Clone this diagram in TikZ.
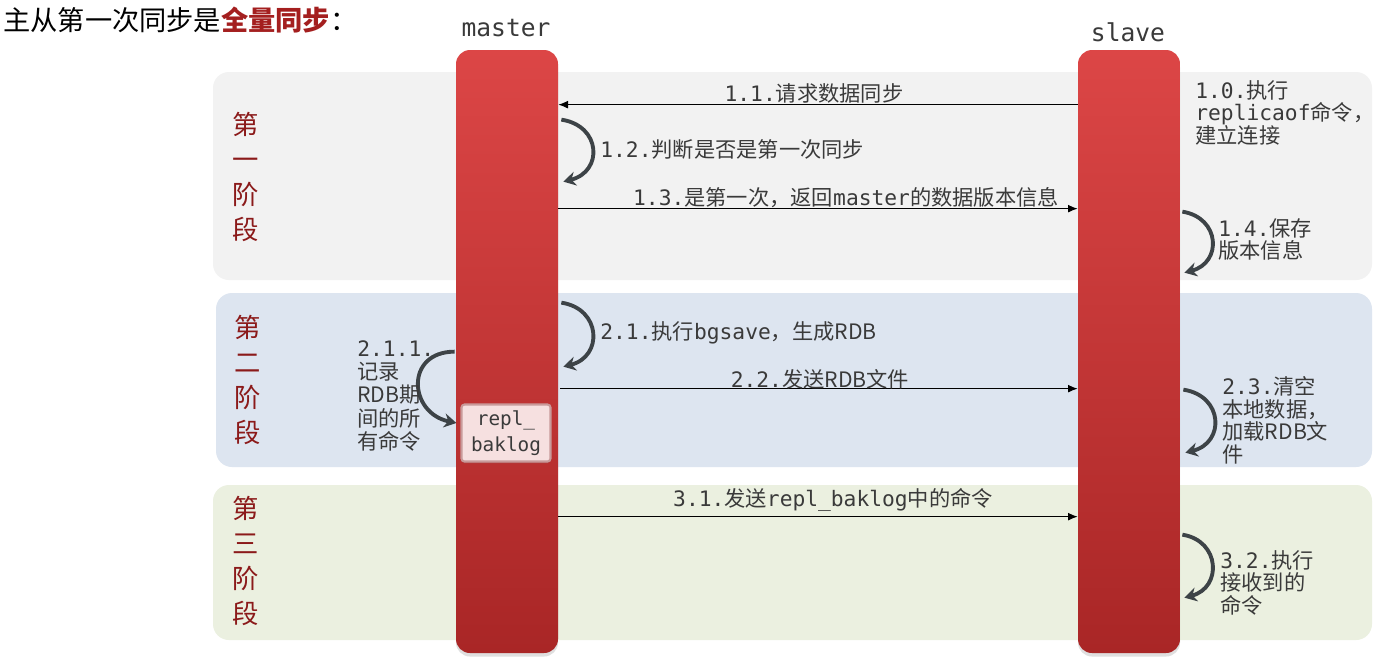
\documentclass[tikz,border=0pt]{standalone}
\usepackage{fontspec}
\setmainfont{Noto Sans CJK SC}
\newfontfamily\monofont{DejaVu Sans Mono}
\newcommand\mm[1]{{\monofont #1}}
\usetikzlibrary{arrows.meta,shadows,calc}
\newdimen\px \px=0.02cm
\definecolor{bgone}{HTML}{F2F2F2}
\definecolor{bgtwo}{HTML}{DDE5F0}
\definecolor{bgthree}{HTML}{EBF0E0}
\definecolor{bartop}{HTML}{DC4646}
\definecolor{barbot}{HTML}{A92626}
\definecolor{stagered}{HTML}{8B1A1A}
\definecolor{titlered}{HTML}{A41F1F}
\definecolor{txt}{HTML}{3A3A3A}
\definecolor{loopc}{HTML}{3D4347}
\definecolor{replfill}{HTML}{F6E0E0}
\definecolor{repldraw}{HTML}{C99A9A}
\begin{document}
\begin{tikzpicture}[x=0.02cm,y=-0.02cm,
  stagebg/.style={rounded corners=16\px, draw=none},
  bar/.style={rounded corners=14\px, minimum width=102\px, minimum height=603\px,
    top color=bartop, bottom color=barbot, draw=none, inner sep=0,
    drop shadow={opacity=0.25, shadow xshift=0pt, shadow yshift=-2pt}},
  msg/.style={-{Latex[length=5.5pt,width=4.5pt]}, line width=0.6pt, black},
  loopar/.style={-{Stealth[length=7pt,width=8pt]}, line width=2.2pt, draw=loopc},
  lbl/.style={font=\fontsize{12.1}{12.9}\selectfont, text=txt, inner sep=0},
  mlbl/.style={lbl, align=left, anchor=north west},
  stagelbl/.style={font=\fontsize{15}{19.8}\selectfont, text=stagered, align=center, inner sep=0},
  head/.style={font=\monofont\fontsize{14}{16}\selectfont, text=txt, inner sep=0},
  replbox/.style={fill=replfill, draw=repldraw, line width=1.2pt, rounded corners=3\px,
    minimum width=89\px, minimum height=57\px, inner sep=0, align=center,
    font=\monofont\fontsize{11}{14.7}\selectfont, text=txt,
    drop shadow={opacity=0.2, shadow xshift=0pt, shadow yshift=-1pt}}
]
\useasboundingbox (0,0) rectangle (1375,667);
\fill[white] (0,0) rectangle (1375,667);

% stage backgrounds
\fill[stagebg, bgone] (213,72) rectangle (1372,280);
\fill[stagebg, bgtwo] (216,293) rectangle (1372,467);
\fill[stagebg, bgthree] (213,485) rectangle (1372,640);

% title
\node[anchor=west, inner sep=0, font=\fontsize{15.5}{17}\selectfont] (title) at (3,20)
  {主从第一次同步是{\bfseries\color{titlered}全量同步}：};

% headers
\node[head] (mlabel) at (506,28) {master};
\node[head] (slabel) at (1128,32) {slave};

% stage labels
\node[stagelbl] (s1) at (246,177) {第\\一\\阶\\段};
\node[stagelbl] (s2) at (248,380) {第\\二\\阶\\段};
\node[stagelbl] (s3) at (246,561) {第\\三\\阶\\段};

% bars
\node[bar] (master) at (507,351.5) {};
\node[bar] (slave) at (1129,351.5) {};

% repl_baklog
\node[replbox] (repl) at (506,433) {repl\_\\baklog};

% message arrows
\draw[msg] ($(slave.north west)+(0,55)$) -- ($(master.north east)+(0,55)$);
\draw[msg] ($(master.north east)+(0,159)$) -- ($(slave.north west)+(0,159)$);
\draw[msg] ($(master.north east)+(2,339)$) -- ($(slave.north west)+(0,339)$);
\draw[msg] ($(master.north east)+(0,467)$) -- ($(slave.north west)+(0,467)$);

% loop arrows
\coordinate (a12) at ($(master.north east)+(3,70)$);
\coordinate (b12) at ($(master.north east)+(5,132)$);
\draw[loopar] (a12) .. controls +(40,6) and +(40,-10) .. (b12);
\coordinate (a21) at ($(master.north east)+(3,253)$);
\coordinate (b21) at ($(master.north east)+(5,317)$);
\draw[loopar] (a21) .. controls +(40,6) and +(40,-10) .. (b21);
\coordinate (a211) at ($(master.north west)+(-1,302)$);
\coordinate (b211) at (repl.west);
\draw[loopar] (a211) .. controls +(-50,0) and +(-48,-10) .. ($(b211)+(-4,-10)$);
\coordinate (a14) at ($(slave.north east)+(2,162)$);
\coordinate (b14) at ($(slave.north east)+(4,223)$);
\draw[loopar] (a14) .. controls +(38,6) and +(38,-10) .. (b14);
\coordinate (a23) at ($(slave.north east)+(3,340)$);
\coordinate (b23) at ($(slave.north east)+(5,403)$);
\draw[loopar] (a23) .. controls +(40,6) and +(40,-10) .. (b23);
\coordinate (a32) at ($(slave.north east)+(2,485)$);
\coordinate (b32) at ($(slave.north east)+(4,548)$);
\draw[loopar] (a32) .. controls +(38,6) and +(38,-10) .. (b32);

% labels
\node[lbl] (l11) at (814,93) {\mm{1.1.}请求数据同步};
\node[lbl, anchor=west] (l12) at (600,149) {\mm{1.2.}判断是否是第一次同步};
\node[lbl] (l13) at (846,198) {\mm{1.3.}是第一次，返回\mm{master}的数据版本信息};
\node[lbl, anchor=west] (l21) at (600,333) {\mm{2.1.}执行\mm{bgsave}，生成RDB};
\node[lbl] (l22) at (820,379) {\mm{2.2.}发送RDB文件};
\node[lbl] (l31) at (833,500) {\mm{3.1.}发送\mm{repl\_baklog}中的命令};

\node[mlbl] (l10) at (1195,80) {\mm{1.0.}执行\\\mm{replicaof}命令，\\建立连接};
\node[mlbl] (l14) at (1218,218) {\mm{1.4.}保存\\版本信息};
\node[mlbl, font=\fontsize{12.1}{13.3}\selectfont] (l211) at (357,340) {\mm{2.1.1.}\\记录\\RDB期\\间的所\\有命令};
\node[mlbl] (l23) at (1222,376) {\mm{2.3.}清空\\本地数据，\\加载RDB文\\件};
\node[mlbl] (l32) at (1220,550) {\mm{3.2.}执行\\接收到的\\命令};
\end{tikzpicture}
\end{document}
